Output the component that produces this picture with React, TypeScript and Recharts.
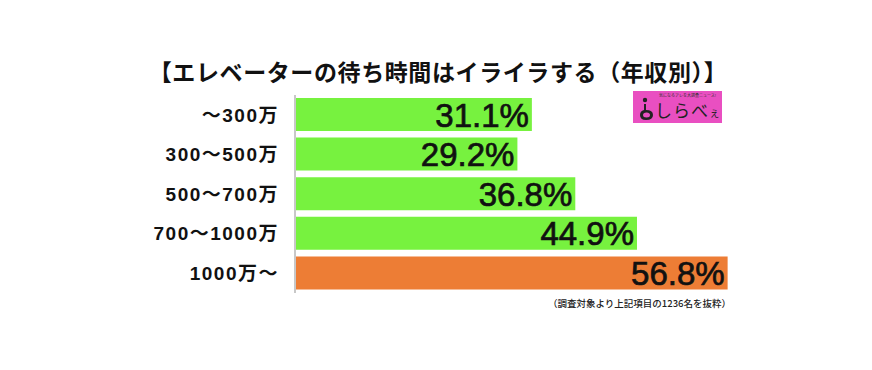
import { BarChart, Bar, XAxis, YAxis, Cell, LabelList } from "recharts";

const categories = ["〜300万", "300〜500万", "500〜700万", "700〜1000万", "1000万〜"];
const values = [31.1, 29.2, 36.8, 44.9, 56.8];
const barColors = ["#77f23f", "#77f23f", "#77f23f", "#77f23f", "#ed7d35"];

const title = "【エレベーターの待ち時間はイライラする（年収別）】";
const note = "（調査対象より上記項目の1236名を抜粋）";

const data = categories.map((name, i) => ({ name, value: values[i] }));

const FONT = '"Noto Sans CJK JP", "Noto Sans", sans-serif';
const LATIN = '"Liberation Sans", "Noto Sans CJK JP", sans-serif';

function ValueLabel(props: any) {
  const { x, y, width, height, value } = props;
  return (
    <text
      x={x + width - 3}
      y={y + height / 2 + 12}
      textAnchor="end"
      fontFamily={LATIN}
      fontSize={33}
      fill="#111"
      stroke="#111"
      strokeWidth={0.7}
    >
      {value.toFixed(1)}%
    </text>
  );
}

function Logo() {
  return (
    <div
      style={{
        position: "absolute",
        left: 633,
        top: 91,
        width: 89,
        height: 32,
        background: "#e94fc1",
        fontFamily: FONT,
      }}
    >
      <div
        style={{
          position: "absolute",
          left: 26,
          top: 2,
          fontSize: 4,
          lineHeight: "5px",
          color: "#333",
          whiteSpace: "nowrap",
        }}
      >
        気になるアレを大調査ニュース!
      </div>
      <svg width={20} height={26} style={{ position: "absolute", left: 4, top: 4 }}>
        <circle cx={8} cy={5} r={2.2} fill="#222" />
        <path d="M7 9 L9 9 L9 15 Q16 15 16 20 Q16 25 9 25 Q3 25 3 20 Q3 16 7 15 Z" fill="#222" />
        <ellipse cx={9.5} cy={20} rx={3.5} ry={2.5} fill="#e94fc1" />
      </svg>
      <div
        style={{
          position: "absolute",
          left: 22,
          top: 9,
          fontSize: 17,
          lineHeight: "20px",
          color: "#222",
          whiteSpace: "nowrap",
          letterSpacing: 1,
        }}
      >
        しらべ<span style={{ fontSize: 11 }}>ぇ</span>
      </div>
    </div>
  );
}

export default function App() {
  return (
    <div
      style={{
        position: "absolute",
        left: 0,
        top: 0,
        width: 872,
        height: 370,
        background: "#fff",
        fontFamily: FONT,
      }}
    >
      <div
        style={{
          position: "absolute",
          left: 0,
          width: 872,
          top: 56,
          textAlign: "center",
          fontSize: 23,
          fontWeight: 700,
          lineHeight: "30px",
          color: "#111",
          letterSpacing: 0.6,
          paddingLeft: 2,
        }}
      >
        {title}
      </div>
      <div style={{ position: "absolute", left: 0, top: 0 }}>
        <BarChart
          width={872}
          height={370}
          data={data}
          layout="vertical"
          margin={{ top: 95, right: 120, bottom: 77, left: 0 }}
          barSize={33}
        >
          <XAxis type="number" domain={[0, 60]} hide />
          <YAxis
            type="category"
            dataKey="name"
            width={295}
            axisLine={{ stroke: "#c8c8c8", strokeWidth: 2 }}
            tickLine={false}
            tickMargin={10}
            tick={{
              fill: "#111",
              fontSize: 19,
              fontFamily: LATIN,
              fontWeight: 700,
              letterSpacing: 1.5,
            }}
          />
          <Bar dataKey="value" isAnimationActive={false}>
            {data.map((_, i) => (
              <Cell key={`cell-${i}`} fill={barColors[i]} />
            ))}
            <LabelList dataKey="value" content={<ValueLabel />} />
          </Bar>
        </BarChart>
      </div>
      <Logo />
      <div
        style={{
          position: "absolute",
          left: 548,
          top: 296,
          fontSize: 9.5,
          color: "#222",
          whiteSpace: "nowrap",
          fontWeight: 500,
        }}
      >
        {note}
      </div>
    </div>
  );
}
